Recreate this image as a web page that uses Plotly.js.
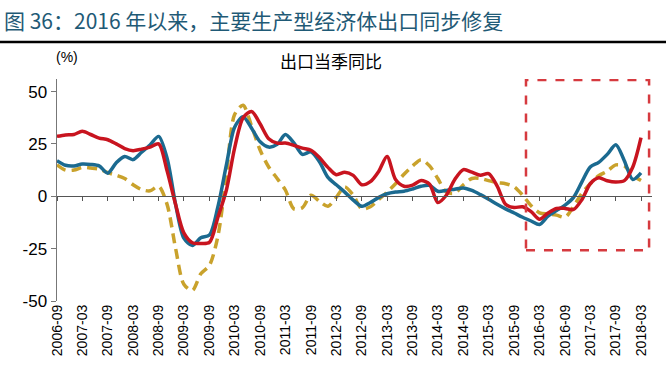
<!DOCTYPE html>
<html><head><meta charset="utf-8">
<script src="https://cdn.plot.ly/plotly-3.0.1.min.js"></script>
<style>html,body{margin:0;padding:0;background:#fff}#chart{width:666px;height:386px}</style>
</head><body><div id="chart"></div>
<script>
// Observation dates: every 2 months starting 2006-09 (70 points, ending 2018-03)
const months = [];
for (let i = 0; i < 70; i++) {
  const t = 2006 * 12 + 8 + i * 2;
  const y = Math.floor(t / 12), m = t % 12 + 1;
  months.push(y + '-' + String(m).padStart(2, '0') + '-01');
}

const seriesNames = ['韩国', '中国台湾', '日本'];

const blueValues = [17,14.8,14.5,15.4,15.2,14.5,11,16,19,17.5,21,24.5,28.6,18,-4,-20,-23.5,-19.8,-18.5,-5,
  15,33,38,32.5,26,23.5,24.8,29.5,25.5,20,21.2,16.5,9,5.5,2,-1.8,-4.8,-3,-0.5,1.2,
  2,2.4,3.5,4.8,5.2,2.4,2.8,3.4,4,2.8,0.8,-1.4,-3.8,-6,-8,-10,-11.8,-13.5,-9.5,-6.8,
  -4.2,-0.5,7,14,16.2,20,24.6,17,8,11.2];

const redValues = [28.6,29.3,29.5,31,29.5,27.8,27,25,22.8,21.8,22.5,23.5,25,12,-4,-17.5,-22.2,-22.5,-22,-10,
  3,23,37.5,40.5,34.5,27.5,25.4,25.4,24.3,23,22,18.5,13.8,10.3,11.5,10,5.5,7,12,19,
  8,4.8,5.3,7.5,5.8,-3,0.5,8,12.7,11.5,10,10.8,5,-3.8,-5.4,-5,-7.3,-11,-8,-5.8,
  -5.8,-6.3,-1.5,6,8.8,7.4,6.8,7.5,14,28];

const goldValues = [15,12.5,12.5,13.8,13.5,13,11.3,10,8.5,5.5,3.2,2.6,4.8,-4,-25,-42,-45,-37,-33,-19,
  10,39,43.5,33.5,22,14,8.5,3,-6,-5.5,0.5,-2.4,-4.8,-0.5,4.5,0.5,-6,-5,-1.5,2,
  6,10.5,14.5,17.5,14.5,8.5,2,1.5,5.5,8.5,8.5,7.5,6.5,6,4.5,0.5,-4.5,-7.9,-8.5,-9,
  -10,-4.8,1.5,6,9.8,12,15,14.5,10,7.5];

const tickLabels = ['2006-09','2007-03','2007-09','2008-03','2008-09','2009-03','2009-09','2010-03',
  '2010-09','2011-03','2011-09','2012-03','2012-09','2013-03','2013-09','2014-03','2014-09',
  '2015-03','2015-09','2016-03','2016-09','2017-03','2017-09','2018-03'];
const yTicks = [-50, -25, 0, 25, 50];

const W = 666, H = 386;
const M = {l: 57, r: 14, t: 79, b: 85};
const PW = W - M.l - M.r, PH = H - M.t - M.b;
const px = x => (x - M.l) / PW;
const py = y => (H - M.b - y) / PH;

const lineFont = 'Liberation Sans, Arial, sans-serif';
const cjkFont = 'Noto Sans CJK SC, sans-serif';

const traces = [
  {x: months, y: goldValues, name: seriesNames[2], type: 'scatter', mode: 'lines',
   line: {color: '#c9a22c', width: 3.5, dash: '10px,6px', shape: 'spline', smoothing: 0.8}},
  {x: months, y: blueValues, name: seriesNames[0], type: 'scatter', mode: 'lines',
   line: {color: '#1b6a90', width: 3.5, shape: 'spline', smoothing: 0.8}},
  {x: months, y: redValues, name: seriesNames[1], type: 'scatter', mode: 'lines',
   line: {color: '#c8141f', width: 3.5, shape: 'spline', smoothing: 0.8}},
  {x: [months[0]], y: [null], xaxis: 'x2', type: 'scatter', mode: 'lines', showlegend: false, hoverinfo: 'skip'}
];

const yMin = -50, yMax = 56;
const xRange = ['2006-09-01', '2018-05-19'];

const layout = {
  width: W, height: H, margin: M, showlegend: false,
  paper_bgcolor: '#fff', plot_bgcolor: '#fff',
  font: {family: lineFont, color: '#000'},
  xaxis: {type: 'date', range: xRange, tickvals: tickLabels, ticktext: tickLabels,
    tickangle: -90, showgrid: false, zeroline: false, showline: false, ticks: '',
    tickfont: {size: 14, family: lineFont, color: '#000'}},
  xaxis2: {type: 'date', range: xRange, overlaying: 'x', anchor: 'free', side: 'bottom',
    position: (0 - yMin) / (yMax - yMin),
    tickvals: tickLabels, showticklabels: false, showgrid: false, zeroline: false,
    showline: true, linecolor: '#555', linewidth: 1, ticks: 'outside', ticklen: 4, tickcolor: '#555'},
  yaxis: {range: [yMin, yMax], tickvals: yTicks, ticktext: yTicks.map(String),
    showgrid: false, zeroline: false, showline: true, linecolor: '#777', linewidth: 1.5,
    ticks: 'outside', ticklen: 5, tickcolor: '#777',
    tickfont: {size: 17, family: lineFont, color: '#000'}},
  shapes: [
    {type: 'line', xref: 'paper', yref: 'paper', x0: px(0), x1: px(W), y0: py(42), y1: py(42),
     line: {color: '#000', width: 2.5}},
    {type: 'rect', xref: 'x', yref: 'y', x0: '2015-11-25', x1: '2018-04-28', y0: -25.8, y1: 55.5,
     line: {color: '#d63a3f', width: 2.5, dash: 'dash'}, fillcolor: 'rgba(0,0,0,0)'}
  ],
  annotations: [
    {text: '图 36：2016 年以来，主要生产型经济体出口同步修复', xref: 'paper', yref: 'paper',
     x: px(2), y: py(20), xanchor: 'left', yanchor: 'middle', showarrow: false,
     font: {family: cjkFont, size: 21, color: '#1f5a76'}},
    {text: '出口当季同比', xref: 'paper', yref: 'paper', x: px(331), y: py(60),
     xanchor: 'center', yanchor: 'middle', showarrow: false,
     font: {family: cjkFont, size: 17, color: '#000'}},
    {text: '(%)', xref: 'paper', yref: 'paper', x: px(67), y: py(57),
     xanchor: 'center', yanchor: 'middle', showarrow: false,
     font: {family: lineFont, size: 14, color: '#000'}}
  ]
};

Plotly.newPlot('chart', traces, layout, {staticPlot: true, displayModeBar: false});
</script>
</body></html>
